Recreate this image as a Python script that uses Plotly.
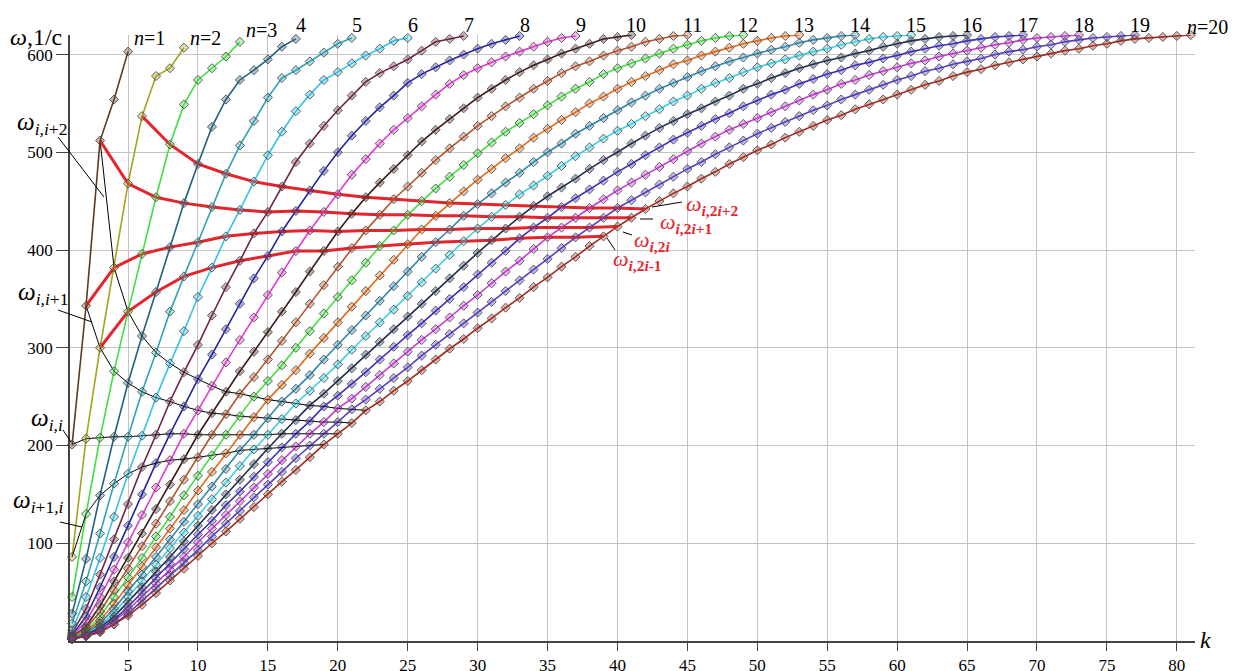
import plotly.graph_objects as go

# ---- data: omega values (1/c) of curve n at k = 1 .. 4n+1 ----
omega_n1 = [201, 343, 512, 554, 603]
omega_n2 = [86, 207, 300, 382, 468, 537, 578, 586, 607]
omega_n3 = [45, 130, 208, 276, 337, 396, 454, 508, 549, 574, 586, 598, 613]
omega_n4 = [28, 84, 149, 209, 264, 312, 357, 403, 448, 488, 526, 554, 574, 584, 595, 608, 616]
omega_n5 = [18, 61, 110, 161, 209, 255, 295, 337, 373, 408,
            444, 478, 507, 532, 556, 576, 584, 593, 602, 611,
            617]
omega_n6 = [11, 45, 85, 127, 171, 210, 249, 284, 317, 352,
            382, 414, 441, 470, 497, 521, 542, 559, 574, 582,
            591, 599, 606, 614, 617]
omega_n7 = [8, 33, 68, 104, 140, 178, 211, 245, 275, 303,
            333, 362, 389, 417, 439, 465, 490, 509, 527, 543,
            558, 572, 581, 588, 595, 604, 613, 616, 619]
omega_n8 = [6, 25, 55, 86, 118, 150, 182, 212, 240, 268,
            293, 319, 345, 371, 394, 419, 440, 461, 481, 500,
            517, 532, 546, 558, 571, 580, 587, 594, 600, 606,
            611, 615, 619]
omega_n9 = [5, 20, 45, 73, 101, 129, 157, 185, 212, 236,
            261, 285, 308, 331, 354, 377, 399, 420, 439, 457,
            477, 493, 509, 523, 535, 547, 559, 570, 579, 586,
            592, 598, 603, 608, 613, 617, 619]
omega_n10 = [4, 15, 36, 61, 85, 110, 135, 160, 186, 211,
             233, 255, 276, 296, 316, 337, 357, 378, 399, 419,
             437, 454, 469, 483, 497, 511, 523, 534, 545, 556,
             565, 574, 582, 589, 595, 601, 606, 611, 616, 618,
             620]
omega_n11 = [4, 13, 30, 52, 74, 97, 120, 143, 165, 188,
             211, 232, 253, 270, 288, 307, 326, 345, 364, 383,
             402, 420, 436, 452, 465, 479, 492, 504, 516, 527,
             537, 547, 556, 565, 573, 581, 588, 593, 599, 604,
             608, 613, 616, 619, 620]
omega_n12 = [3, 10, 25, 45, 65, 85, 107, 127, 149, 169,
             190, 211, 230, 250, 266, 282, 300, 317, 335, 352,
             369, 387, 404, 420, 436, 450, 463, 475, 487, 499,
             510, 521, 530, 539, 548, 557, 565, 572, 580, 586,
             591, 596, 601, 606, 610, 614, 617, 619, 620]
omega_n13 = [3, 9, 21, 38, 57, 76, 96, 115, 134, 154,
             173, 192, 211, 229, 247, 262, 277, 294, 310, 326,
             342, 358, 374, 390, 406, 421, 435, 448, 460, 472,
             483, 494, 504, 515, 524, 533, 541, 550, 557, 565,
             572, 578, 584, 590, 594, 599, 603, 607, 611, 614,
             617, 619, 620]
omega_n14 = [3, 8, 18, 33, 51, 68, 86, 104, 122, 140,
             158, 176, 195, 211, 228, 245, 258, 272, 288, 303,
             318, 333, 348, 363, 378, 393, 408, 421, 435, 447,
             458, 469, 479, 490, 500, 509, 519, 527, 535, 543,
             551, 558, 565, 571, 577, 583, 588, 593, 597, 601,
             605, 608, 612, 615, 617, 619, 620]
omega_n15 = [2, 7, 15, 29, 45, 61, 78, 95, 111, 128,
             145, 162, 179, 196, 211, 227, 243, 256, 269, 283,
             298, 312, 326, 339, 353, 367, 381, 395, 409, 422,
             434, 446, 457, 466, 476, 486, 496, 505, 514, 522,
             529, 537, 544, 552, 558, 565, 571, 576, 582, 587,
             591, 595, 599, 603, 606, 610, 613, 616, 618, 619,
             620]
omega_n16 = [2, 6, 14, 25, 40, 55, 71, 86, 102, 118,
             134, 150, 165, 181, 197, 212, 226, 241, 253, 266,
             279, 293, 306, 319, 332, 345, 358, 371, 384, 397,
             410, 422, 434, 445, 455, 464, 473, 483, 492, 500,
             509, 517, 525, 532, 539, 545, 552, 558, 565, 570,
             576, 581, 586, 590, 594, 597, 601, 604, 608, 611,
             614, 616, 618, 619, 620]
omega_n17 = [2, 6, 12, 22, 35, 50, 64, 79, 94, 109,
             123, 139, 153, 168, 183, 198, 212, 225, 240, 251,
             263, 275, 288, 301, 313, 325, 338, 350, 362, 375,
             387, 399, 412, 423, 433, 444, 453, 462, 471, 480,
             488, 497, 505, 513, 520, 527, 534, 540, 547, 553,
             559, 564, 570, 575, 580, 584, 589, 592, 596, 599,
             603, 606, 609, 611, 614, 616, 618, 619, 620]
omega_n18 = [2, 5, 11, 20, 32, 45, 59, 73, 86, 101,
             115, 129, 143, 157, 171, 185, 199, 212, 224, 238,
             248, 260, 272, 284, 296, 308, 319, 331, 343, 354,
             366, 378, 389, 401, 413, 423, 433, 443, 452, 461,
             469, 477, 485, 493, 501, 509, 516, 523, 529, 535,
             541, 547, 553, 559, 564, 570, 574, 579, 583, 587,
             591, 594, 598, 601, 604, 607, 610, 612, 615, 617,
             618, 619, 620]
omega_n19 = [2, 5, 10, 17, 28, 41, 54, 67, 80, 93,
             107, 120, 133, 147, 160, 173, 187, 200, 212, 224,
             237, 247, 258, 269, 280, 292, 303, 314, 325, 336,
             347, 358, 369, 380, 391, 402, 413, 423, 433, 443,
             451, 459, 467, 475, 483, 490, 498, 505, 512, 519,
             525, 531, 537, 543, 548, 554, 559, 564, 569, 574,
             578, 583, 586, 590, 593, 596, 600, 603, 605, 608,
             610, 613, 615, 617, 618, 619, 620]
omega_n20 = [2, 5, 9, 17, 26, 37, 49, 62, 74, 87,
             100, 112, 125, 137, 150, 163, 175, 188, 201, 212,
             223, 236, 245, 256, 266, 277, 288, 299, 309, 320,
             330, 341, 351, 362, 372, 383, 393, 404, 414, 424,
             433, 442, 450, 458, 465, 473, 480, 488, 495, 502,
             508, 515, 521, 527, 533, 538, 544, 549, 554, 559,
             564, 569, 573, 578, 582, 585, 589, 592, 595, 598,
             601, 604, 606, 609, 611, 614, 616, 617, 618, 619,
             620]

curves = [omega_n1, omega_n2, omega_n3, omega_n4, omega_n5, omega_n6, omega_n7,
          omega_n8, omega_n9, omega_n10, omega_n11, omega_n12, omega_n13, omega_n14,
          omega_n15, omega_n16, omega_n17, omega_n18, omega_n19, omega_n20]

curve_colors = ['#5b3a1e', '#a3a31c', '#3fe03f', '#21607f', '#2ea3b3', '#35c3e8',
                '#6e2346', '#2222a6', '#e23bd0', '#3a1a14', '#b5532b', '#44dd44',
                '#e06a1a', '#2f87ab', '#3ccfe0', '#1e2d4d', '#3a2dbf', '#c33ad6',
                '#5a3cc4', '#a32a1e']

top_labels = ['<i>n</i>=1', '<i>n</i>=2', '<i>n</i>=3', '4', '5', '6', '7', '8', '9',
              '10', '11', '12', '13', '14', '15', '16', '17', '18', '19', '<i>n</i>=20']

x_ticks = [5, 10, 15, 20, 25, 30, 35, 40, 45, 50, 55, 60, 65, 70, 75, 80]
y_ticks = [100, 200, 300, 400, 500, 600]

# mode families: k = a*n + b for n = n0..20
black_families = [(1, 0, 1), (1, 1, 1), (1, 2, 1), (1, -1, 2)]
red_families = [(2, -1, 2), (2, 0, 1), (2, 1, 1), (2, 2, 2)]

SERIF = 'Liberation Serif, Times New Roman, serif'
RED = '#e5252d'
BODY = 8                      # default page margin of the html body
FW, FH = 1238 - BODY, 671 - BODY
L, R, T, B = 70 - BODY, 43, 35 - BODY, 30
W = FW - L - R
H = FH - T - B


def px(xp):                   # page pixel x -> paper
    return (xp - BODY - L) / W


def py(yp):                   # page pixel y -> paper
    return (FH - B - (yp - BODY)) / H


def rgba(hexcol, a):
    h = hexcol.lstrip('#')
    return 'rgba(%d,%d,%d,%.2f)' % (int(h[0:2], 16), int(h[2:4], 16), int(h[4:6], 16), a)


fig = go.Figure()

for vals, col in zip(curves, curve_colors):
    ks = list(range(1, len(vals) + 1))
    fig.add_trace(go.Scatter(x=ks, y=vals, mode='lines', line=dict(color=col, width=1.6),
                             hoverinfo='skip', showlegend=False, cliponaxis=False))


def family_points(a, b, n0):
    xs, ys = [], []
    for n in range(n0, 21):
        k = a * n + b
        xs.append(k)
        ys.append(curves[n - 1][k - 1])
    return xs, ys


for a, b, n0 in black_families:
    xs, ys = family_points(a, b, n0)
    fig.add_trace(go.Scatter(x=xs, y=ys, mode='lines', line=dict(color='black', width=1),
                             hoverinfo='skip', showlegend=False, cliponaxis=False))

for a, b, n0 in red_families:
    xs, ys = family_points(a, b, n0)
    fig.add_trace(go.Scatter(x=xs, y=ys, mode='lines', line=dict(color=RED, width=3),
                             hoverinfo='skip', showlegend=False, cliponaxis=False))

for vals, col in zip(curves, curve_colors):
    ks = list(range(1, len(vals) + 1))
    fig.add_trace(go.Scatter(x=ks, y=vals, mode='markers',
                             marker=dict(symbol='diamond', size=7, color=rgba(col, 0.35),
                                         line=dict(color='rgba(75,75,75,0.9)', width=1)),
                             hoverinfo='skip', showlegend=False, cliponaxis=False))

ann = []
# top curve labels
for i, lab in enumerate(top_labels):
    n = i + 1
    kend = len(curves[i])
    if n <= 3:
        a = dict(y=py(38 if n < 3 else 30), xanchor='left', xshift=4)
    elif n == 20:
        a = dict(y=py(27), xanchor='left', xshift=-6)
    else:
        a = dict(y=py(25), xanchor='center', xshift=5)
    ann.append(dict(x=kend, xref='x', yref='paper', text=lab, showarrow=False,
                    yanchor='middle', font=dict(family=SERIF, size=20, color='black'), **a))

# axis titles
ann.append(dict(x=px(36), y=py(37), xref='paper', yref='paper', text='<i>ω</i>,1/c',
                xanchor='center', yanchor='middle', showarrow=False,
                font=dict(family=SERIF, size=24, color='black')))
ann.append(dict(x=px(1205), y=py(640), xref='paper', yref='paper', text='<i>k</i>',
                xanchor='center', yanchor='middle', showarrow=False,
                font=dict(family=SERIF, size=24, color='black')))

# black family labels
black_labels = [('<i>ω</i><sub><i>i,i</i>+2</sub>', 42, 124),
                ('<i>ω</i><sub><i>i,i</i>+1</sub>', 43, 293),
                ('<i>ω</i><sub><i>i,i</i></sub>', 47, 419),
                ('<i>ω</i><sub><i>i</i>+1<i>,i</i></sub>', 38, 501)]
for txt, xx, yy in black_labels:
    ann.append(dict(x=px(xx), y=py(yy), xref='paper', yref='paper', text=txt, showarrow=False,
                    xanchor='center', yanchor='middle',
                    font=dict(family=SERIF, size=25, color='black')))

red_labels = [('<i>ω</i><sub><b><i>i</i>,2<i>i</i>+2</b></sub>', 712, 205),
              ('<i>ω</i><sub><b><i>i</i>,2<i>i</i>+1</b></sub>', 686, 223),
              ('<i>ω</i><sub><b><i>i</i>,2<i>i</i></b></sub>', 652, 241),
              ('<i>ω</i><sub><b><i>i</i>,2<i>i</i>-1</b></sub>', 637, 260)]
for txt, xx, yy in red_labels:
    ann.append(dict(x=px(xx), y=py(yy), xref='paper', yref='paper', text=txt, showarrow=False,
                    xanchor='center', yanchor='middle',
                    font=dict(family=SERIF, size=22, color=RED)))

pointers = [((58, 137), (104, 197)), ((58, 310), (92, 322)), ((63, 430), (71, 442)),
            ((60, 522), (82, 527)), ((652, 207), (682, 202)), ((640, 219), (653, 219)),
            ((623, 232), (632, 235)), ((607, 238), (615, 250))]
shapes = []
for (x0, y0), (x1, y1) in pointers:
    shapes.append(dict(type='line', xref='paper', yref='paper', x0=px(x0), y0=py(y0),
                       x1=px(x1), y1=py(y1), line=dict(color='black', width=1)))

fig.update_layout(
    width=FW, height=FH,
    margin=dict(l=L, r=R, t=T, b=B, autoexpand=False),
    paper_bgcolor='white', plot_bgcolor='white',
    annotations=ann, shapes=shapes,
    xaxis=dict(range=[0.85, 81.3], tickvals=x_ticks, ticktext=[str(v) for v in x_ticks],
               showgrid=True, gridcolor='#c4c4c4', gridwidth=1, zeroline=False,
               showline=True, linecolor='#444', linewidth=1.5, automargin=False,
               ticks='outside', ticklen=8, tickcolor='#444', tickwidth=1,
               tickfont=dict(family=SERIF, size=17, color='black')),
    yaxis=dict(range=[0, 620], tickvals=y_ticks, ticktext=[str(v) for v in y_ticks],
               showgrid=True, gridcolor='#c4c4c4', gridwidth=1, zeroline=False,
               showline=True, linecolor='#444', linewidth=1.5, automargin=False,
               ticks='outside', ticklen=12, tickcolor='#444', tickwidth=1,
               tickfont=dict(family=SERIF, size=17, color='black')),
)

fig.write_html('out.html')
